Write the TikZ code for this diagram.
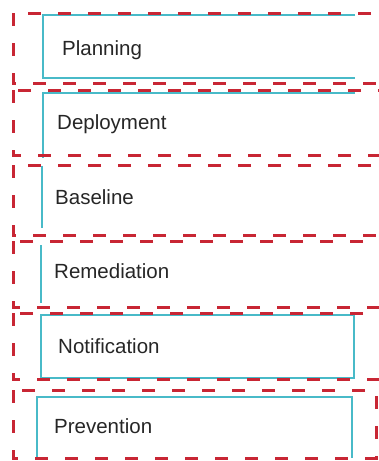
\documentclass[tikz,border=0pt]{standalone}
\usepackage{fontspec}
\setmainfont{Liberation Sans}
\definecolor{redline}{RGB}{200,38,52}
\definecolor{cyanline}{RGB}{72,186,200}
\definecolor{txt}{RGB}{38,38,38}
\tikzset{
  redbox/.style={draw=redline, line width=3pt, dash pattern=on 13pt off 17pt},
  cyanbox/.style={draw=cyanline, line width=1.6pt},
  label/.style={anchor=base west, inner sep=0pt, text=txt, font=\fontsize{20.5}{24}\selectfont},
}
\begin{document}
\begin{tikzpicture}[x=1pt,y=-1pt]
\useasboundingbox (0,0) rectangle (379,461);
\begin{scope}
\clip (0,0) rectangle (379,461);
% cyan inner boxes
\draw[cyanbox] (355,15) -- (43,15) -- (43,78) -- (355,78);
\draw[cyanbox] (355,93) -- (43,93) -- (43,158);
\draw[cyanbox] (42,166) -- (42,228);
\draw[cyanbox] (41,245) -- (41,303);
\draw[cyanbox] (41,315) rectangle (354,378);
\draw[cyanbox] (37,458) -- (37,397) -- (352,397) -- (352,458);
% red dashed frames
\draw[redbox] (13,13) rectangle (392,83);
\draw[redbox] (13,90) rectangle (392,155);
\draw[redbox] (13,165) rectangle (392,235);
\draw[redbox] (13,241) rectangle (392,307);
\draw[redbox] (13,313) rectangle (392,379);
\draw[redbox] (13,390) rectangle (376,458);
\end{scope}
% labels
\node[label] (planning) at (62,55) {Planning};
\node[label] (deployment) at (57,129) {Deployment};
\node[label] (baseline) at (55,204) {Baseline};
\node[label] (remediation) at (54,278) {Remediation};
\node[label] (notification) at (58,353) {Notification};
\node[label] (prevention) at (54,433) {Prevention};
\end{tikzpicture}
\end{document}
